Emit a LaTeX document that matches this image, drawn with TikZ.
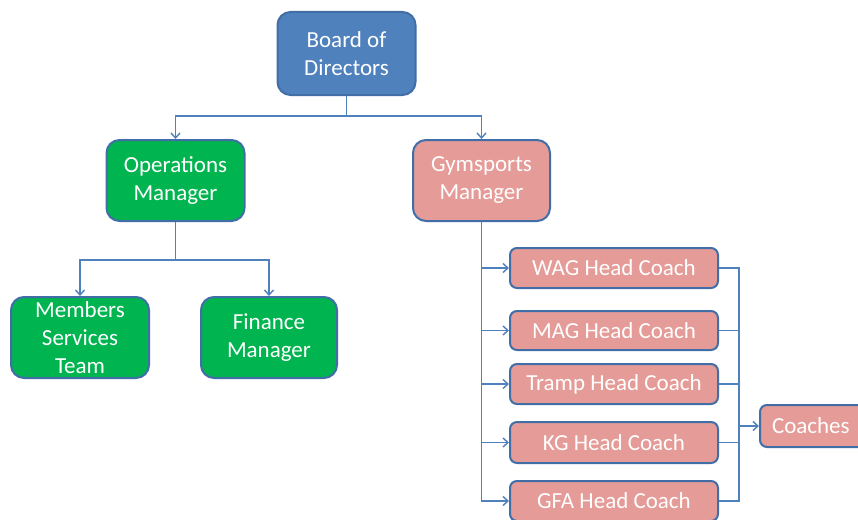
\documentclass[tikz,border=0pt]{standalone}
\usepackage{fontspec}
\setmainfont{Carlito}
\usetikzlibrary{arrows.meta}
\definecolor{bluefill}{RGB}{79,129,189}
\definecolor{greenfill}{RGB}{0,180,80}
\definecolor{pinkfill}{RGB}{229,155,151}
\definecolor{borderc}{RGB}{66,110,168}
\definecolor{linec}{RGB}{79,129,189}
\tikzset{
  box/.style={draw=borderc, line width=2pt, rounded corners=13pt, text=white,
    font=\fontsize{23}{28}\selectfont, align=center, inner sep=0pt},
  bigbox/.style={box, minimum width=138pt, minimum height=81pt},
  coachbox/.style={box, fill=pinkfill, rounded corners=7pt, minimum width=208pt, minimum height=40pt},
  conn/.style={draw=linec, line width=1.6pt},
  arr/.style={conn, -{Straight Barb[length=5pt,width=9pt,line width=1.4pt]}}
}
\begin{document}
\begin{tikzpicture}[x=1pt,y=-1pt]
\clip (0,0) rectangle (858,519);
\useasboundingbox (0,0) rectangle (858,519);
\fill[white] (0,0) rectangle (858,519);

\node[bigbox, fill=bluefill, minimum height=83pt] (board) at (346.5,53.5) {Board of\\Directors};
\node[bigbox, fill=greenfill] (ops) at (175.5,180.5) {Operations\\Manager};
\node[bigbox, fill=pinkfill, minimum width=137pt] (gym) at (481.5,180.5) {Gymsports\\Manager};
\node[bigbox, fill=greenfill] (members) at (80,337.5) {Members\\Services\\Team};
\node[bigbox, fill=greenfill, minimum width=136pt] (finance) at (269,337.5) {Finance\\Manager};

\node[coachbox] (wag) at (614,268) {WAG Head Coach};
\node[coachbox, minimum height=39pt] (mag) at (614,330.5) {MAG Head Coach};
\node[coachbox] (tramp) at (614,384) {Tramp Head Coach};
\node[coachbox, minimum height=41pt] (kg) at (614,442.5) {KG Head Coach};
\node[coachbox] (gfa) at (614,501) {GFA Head Coach};
\node[box, fill=pinkfill, rounded corners=7pt, minimum width=110pt, minimum height=42pt, text width=86pt, align=left] (coaches) at (815,426) {Coaches};

\coordinate (bj) at (346.5,116);
\draw[conn] (board.south) -- (bj);
\draw[arr] (bj) -| (ops.north);
\draw[arr] (bj) -| (gym.north);

\coordinate (oj) at (175.5,260);
\draw[conn] (ops.south) -- (oj);
\draw[arr] (oj) -| (members.north);
\draw[arr] (oj) -| (finance.north);

\draw[arr] (gym.south) |- (wag.west);
\draw[arr] (gym.south) |- (mag.west);
\draw[arr] (gym.south) |- (tramp.west);
\draw[arr] (gym.south) |- (kg.west);
\draw[arr] (gym.south) |- (gfa.west);

\coordinate (cj) at (739,426);
\draw[conn] (wag.east) -| (cj);
\draw[conn] (mag.east) -| (cj);
\draw[conn] (tramp.east) -| (cj);
\draw[conn] (kg.east) -| (cj);
\draw[conn] (gfa.east) -| (cj);
\draw[arr] (cj) -- (coaches.west);
\end{tikzpicture}
\end{document}
